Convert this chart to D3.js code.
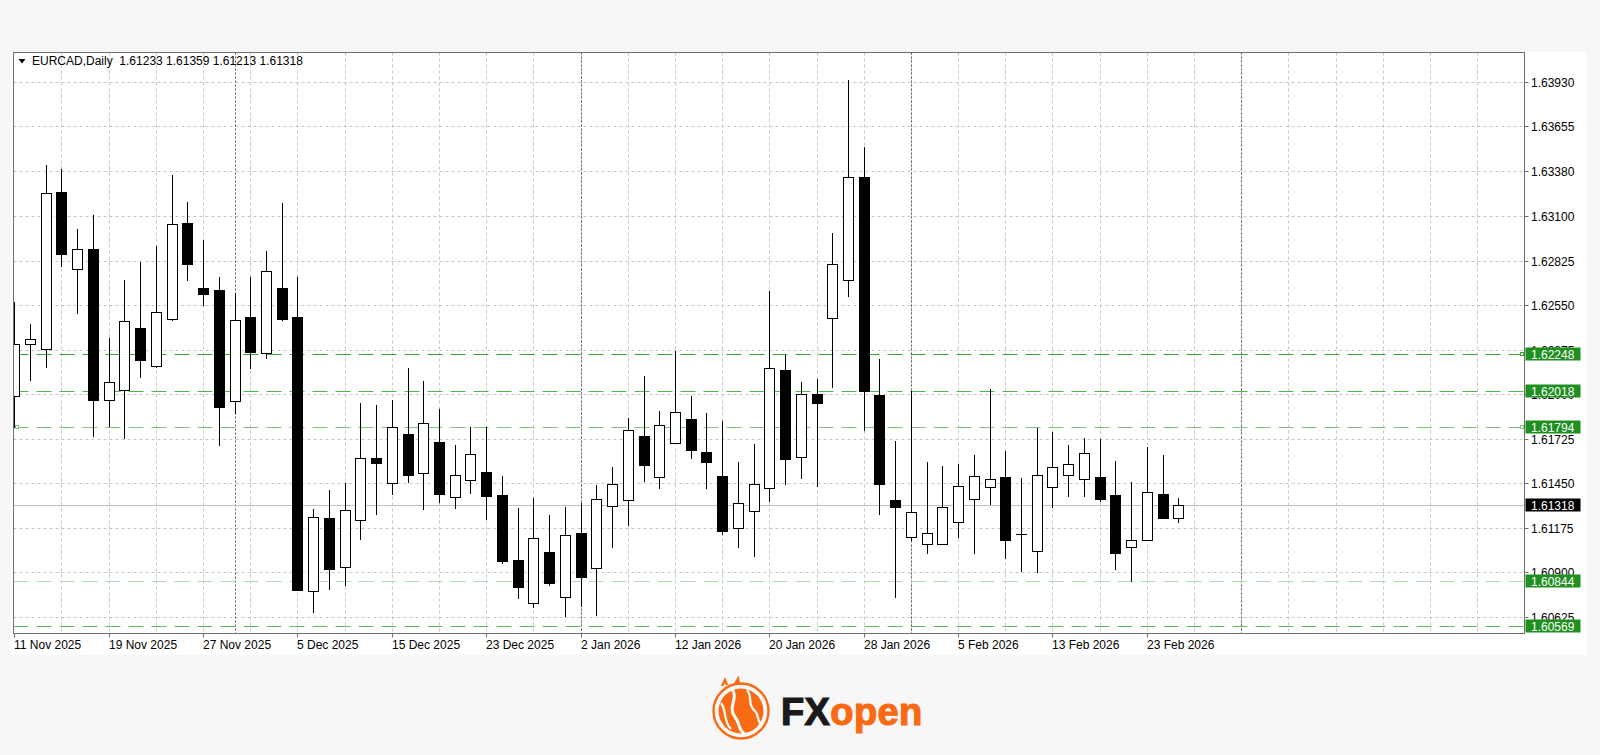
<!DOCTYPE html>
<html><head><meta charset="utf-8">
<script src="https://cdn.jsdelivr.net/npm/d3@7"></script>
<style>html,body{margin:0;padding:0;background:#f7f7f7;} svg{display:block;}</style>
</head><body><svg id="c" width="1600" height="755"></svg>
<script>
// ---------- DATA ----------
const symbol = "EURCAD,Daily";
const dates = ["11 Nov 2025","12 Nov 2025","13 Nov 2025","14 Nov 2025","17 Nov 2025","18 Nov 2025","19 Nov 2025","20 Nov 2025","21 Nov 2025","24 Nov 2025",
"25 Nov 2025","26 Nov 2025","27 Nov 2025","28 Nov 2025","1 Dec 2025","2 Dec 2025","3 Dec 2025","4 Dec 2025","5 Dec 2025","8 Dec 2025",
"9 Dec 2025","10 Dec 2025","11 Dec 2025","12 Dec 2025","15 Dec 2025","16 Dec 2025","17 Dec 2025","18 Dec 2025","19 Dec 2025","22 Dec 2025",
"23 Dec 2025","24 Dec 2025","26 Dec 2025","29 Dec 2025","30 Dec 2025","31 Dec 2025","2 Jan 2026","5 Jan 2026","6 Jan 2026","7 Jan 2026",
"8 Jan 2026","9 Jan 2026","12 Jan 2026","13 Jan 2026","14 Jan 2026","15 Jan 2026","16 Jan 2026","19 Jan 2026","20 Jan 2026","21 Jan 2026",
"22 Jan 2026","23 Jan 2026","26 Jan 2026","27 Jan 2026","28 Jan 2026","29 Jan 2026","30 Jan 2026","2 Feb 2026","3 Feb 2026","4 Feb 2026",
"5 Feb 2026","6 Feb 2026","9 Feb 2026","10 Feb 2026","11 Feb 2026","12 Feb 2026","13 Feb 2026","16 Feb 2026","17 Feb 2026","18 Feb 2026",
"19 Feb 2026","20 Feb 2026","23 Feb 2026","24 Feb 2026","25 Feb 2026"];

const opens = [
1.61988,1.62308,1.62279,1.63249,1.62775,1.62895,1.61966,1.62027,1.62409,1.62174,
1.62464,1.63057,1.62657,1.62643,1.61959,1.62478,1.62254,1.62657,1.62478,1.60786,
1.61237,1.60934,1.61222,1.61607,1.61449,1.61754,1.61515,1.61706,1.61363,1.61471,
1.61517,1.61377,1.60975,1.60708,1.61027,1.60749,1.61144,1.60924,1.61309,1.61346,
1.61743,1.61486,1.61700,1.61844,1.61641,1.61494,1.61171,1.61278,1.61422,1.62152,
1.61610,1.61999,1.62472,1.62707,1.63343,1.61995,1.61346,1.61116,1.61076,1.61072,
1.61212,1.61352,1.61426,1.61486,1.61134,1.61031,1.61426,1.61499,1.61476,1.61486,
1.61375,1.61056,1.61099,1.61385,1.61233];
const highs = [
1.62567,1.62433,1.63417,1.63391,1.63018,1.63105,1.62345,1.62705,1.62814,1.62917,
1.63352,1.63187,1.62952,1.62725,1.62627,1.62725,1.62884,1.63183,1.62725,1.61292,
1.61406,1.61453,1.61947,1.61933,1.61964,1.62160,1.62081,1.61908,1.61686,1.61797,
1.61797,1.61494,1.61295,1.61360,1.61253,1.61305,1.61326,1.61439,1.61548,1.61851,
1.62112,1.61896,1.62268,1.61988,1.61882,1.61834,1.61579,1.61692,1.62637,1.62242,
1.62073,1.62093,1.62995,1.63941,1.63525,1.62215,1.61710,1.62021,1.61579,1.61556,
1.61568,1.61624,1.62030,1.61649,1.61480,1.61793,1.61768,1.61686,1.61731,1.61721,
1.61587,1.61455,1.61675,1.61624,1.61359];
const lows = [
1.61797,1.62087,1.62166,1.62790,1.62503,1.61743,1.61803,1.61731,1.62104,1.62168,
1.62458,1.62705,1.62549,1.61688,1.61882,1.62160,1.62221,1.62458,1.60787,1.60656,
1.60794,1.60821,1.61103,1.61260,1.61383,1.61459,1.61289,1.61336,1.61298,1.61391,
1.61227,1.60955,1.60739,1.60687,1.60821,1.60629,1.60691,1.60636,1.61058,1.61192,
1.61465,1.61418,1.61698,1.61607,1.61418,1.61136,1.61054,1.61000,1.61340,1.61443,
1.61484,1.61432,1.62042,1.62604,1.61778,1.61260,1.60749,1.61099,1.61020,1.61072,
1.61119,1.61020,1.61319,1.60986,1.60907,1.60903,1.61301,1.61373,1.61373,1.61340,
1.60920,1.60847,1.61099,1.61235,1.61213];
const closes = [
1.62308,1.62341,1.63242,1.62868,1.62898,1.61966,1.62073,1.62450,1.62211,1.62506,
1.63051,1.62802,1.62619,1.61919,1.62456,1.62262,1.62759,1.62462,1.60790,1.61241,
1.60918,1.61284,1.61607,1.61576,1.61795,1.61500,1.61820,1.61383,1.61499,1.61632,
1.61373,1.60971,1.60810,1.61109,1.60835,1.61130,1.60872,1.61352,1.61445,1.61777,
1.61560,1.61809,1.61888,1.61655,1.61581,1.61155,1.61326,1.61443,1.62161,1.61599,
1.62001,1.61948,1.62804,1.63343,1.62021,1.61447,1.61301,1.61274,1.61140,1.61303,
1.61431,1.61496,1.61478,1.61099,1.61134,1.61499,1.61550,1.61567,1.61635,1.61352,
1.61020,1.61099,1.61394,1.61235,1.61318];

const priceTicks = [1.63930,1.63655,1.63380,1.63100,1.62825,1.62550,1.62275,1.62000,1.61725,1.61450,1.61175,1.60900,1.60625];
const levels = [1.62248,1.62018,1.61794,1.60844,1.60569];
const lastPrice = 1.61318;
const labelBars = [0,6,12,18,24,30,36,42,48,54,60,66,72];
const monthStartBars = [14,36,57,78];

// ---------- STYLE ----------
const levelColors = ["#33a833","#4db64d","#7cc67c","#b2dcb2","#62ba62"];
const boxGreen = "#1f8f1f";
const orange = "#f96a14";
const FONT = "'Liberation Sans', Arial, sans-serif";

// ---------- LAYOUT ----------
const L = 13.5, T = 52.5, R = 1524.5, B = 633.5;
const x = d3.scaleLinear().domain([0, 96]).range([14.3, 14.3 + 96 * 15.73]);
const y = d3.scaleLinear().domain([1.60625, 1.63930]).range([616.7, 81.7]);
const px = v => Math.round(v) + 0.5;

const svg = d3.select('#c');
svg.append('rect').attr('width',1600).attr('height',755).attr('fill','#f7f7f7');
svg.append('rect').attr('x',11).attr('y',52).attr('width',1575).attr('height',603).attr('fill','#ffffff');

svg.append('clipPath').attr('id','plot').append('rect')
  .attr('x',L).attr('y',T).attr('width',R-L).attr('height',B-T);
const plot = svg.append('g').attr('clip-path','url(#plot)');

// grid horizontal
plot.selectAll('line.hg').data(priceTicks).join('line').attr('class','hg')
  .attr('x1',L).attr('x2',R).attr('y1',d=>px(y(d))).attr('y2',d=>px(y(d)))
  .attr('stroke','#c6c6c6').attr('stroke-dasharray','3,3');
// grid vertical
const vgrid = d3.range(3, 97, 3).filter(i => x(i) < R - 1);
plot.selectAll('line.vg').data(vgrid).join('line').attr('class','vg')
  .attr('x1',d=>px(x(d))).attr('x2',d=>px(x(d))).attr('y1',T).attr('y2',B)
  .attr('stroke','#c6c6c6').attr('stroke-dasharray','3,3');
// month separators
plot.selectAll('line.sep').data(monthStartBars).join('line').attr('class','sep')
  .attr('x1',d=>px(x(d))).attr('x2',d=>px(x(d))).attr('y1',T).attr('y2',B)
  .attr('stroke','#5a5a5a').attr('stroke-dasharray','2,2');
// last price line
plot.append('line').attr('x1',L).attr('x2',R).attr('y1',px(y(lastPrice))).attr('y2',px(y(lastPrice)))
  .attr('stroke','#c0c0c0');
// levels
plot.selectAll('line.lv').data(levels).join('line').attr('class','lv')
  .attr('x1',L).attr('x2',R).attr('y1',d=>px(y(d))).attr('y2',d=>px(y(d)))
  .attr('stroke',(d,i)=>levelColors[i]).attr('stroke-width',1.2).attr('stroke-dasharray','15,8');
// level anchor markers
[[0,R-5],[2,R-5],[2,L+1]].forEach(([k,mx])=>{
  plot.append('rect').attr('x',Math.round(mx)+0.5).attr('y',Math.round(y(levels[k]))-1.5)
    .attr('width',3).attr('height',3).attr('fill','#fff').attr('stroke',levelColors[k]);
});

// candles
const bars = dates.map((d,i)=>({i, o:opens[i], h:highs[i], l:lows[i], c:closes[i]}));
const cg = plot.append('g').attr('shape-rendering','crispEdges');
bars.forEach(b=>{
  const cx = Math.round(x(b.i));
  cg.append('line').attr('x1',cx+0.5).attr('x2',cx+0.5)
    .attr('y1',Math.round(y(b.h))).attr('y2',Math.round(y(b.l))+1).attr('stroke','#000');
  const top = Math.round(y(Math.max(b.o,b.c))), bot = Math.round(y(Math.min(b.o,b.c)));
  if (b.c < b.o) {
    cg.append('rect').attr('x',cx-5).attr('y',top).attr('width',11).attr('height',Math.max(1,bot-top+1)).attr('fill','#000');
  } else {
    cg.append('rect').attr('x',cx-4.5).attr('y',top+0.5).attr('width',10).attr('height',Math.max(0.01,bot-top))
      .attr('fill','#fff').attr('stroke','#000');
  }
});

// frame
svg.append('rect').attr('x',L).attr('y',T).attr('width',R-L).attr('height',B-T)
  .attr('fill','none').attr('stroke','#6e6e6e');

// right axis
const ax = svg.append('g').attr('font-family',FONT).attr('font-size',12).attr('fill','#000');
priceTicks.forEach(p=>{
  const yy = px(y(p));
  ax.append('line').attr('x1',R).attr('x2',R+4).attr('y1',yy).attr('y2',yy).attr('stroke','#6e6e6e');
  ax.append('text').attr('x',1531).attr('y',yy+4.5).text(p.toFixed(5));
});
// level boxes
levels.forEach(p=>{
  const yy = Math.round(y(p));
  ax.append('rect').attr('x',1525.5).attr('y',yy-6.5).attr('width',55).attr('height',13).attr('fill',boxGreen);
  ax.append('text').attr('x',1531).attr('y',yy+4.5).attr('fill','#fff').text(p.toFixed(5));
});
{
  const yy = Math.round(y(lastPrice));
  ax.append('rect').attr('x',1525.5).attr('y',yy-6.5).attr('width',55).attr('height',13).attr('fill','#000');
  ax.append('text').attr('x',1531).attr('y',yy+4.5).attr('fill','#fff').text(lastPrice.toFixed(5));
}

// bottom axis
labelBars.forEach(i=>{
  const xx = px(x(i));
  ax.append('line').attr('x1',xx).attr('x2',xx).attr('y1',B).attr('y2',B+4).attr('stroke','#6e6e6e');
  ax.append('text').attr('x',Math.round(x(i))).attr('y',649).text(dates[i]);
});

// title
const last = bars[bars.length-1];
svg.append('path').attr('d','M18.5,59 L25.5,59 L22,63.5 Z').attr('fill','#000');
ax.append('text').attr('x',32).attr('y',65).attr('xml:space','preserve').style('white-space','pre')
  .text(symbol + '  ' + [last.o,last.h,last.l,last.c].map(v=>v.toFixed(5)).join(' '));

// logo
const lg = svg.append('g').attr('transform','translate(741,711)');
lg.append('circle').attr('r',27.5).attr('fill','none').attr('stroke',orange).attr('stroke-width',2.4);
lg.append('circle').attr('r',22.5).attr('fill',orange);
lg.append('path').attr('d','M-9,-22 C-2,-12 -14,-4 -6,6 C0,13 -4,18 4,23').attr('fill','none').attr('stroke','#fff').attr('stroke-width',3);
lg.append('path').attr('d','M-20,-8 C-14,0 -18,10 -10,18').attr('fill','none').attr('stroke','#fff').attr('stroke-width',2.2);
lg.append('path').attr('d','M6,-21 C12,-14 6,-6 14,0 C18,4 16,10 20,13').attr('fill','none').attr('stroke','#fff').attr('stroke-width',2.2);
lg.append('path').attr('d','M-19,-25 l3,-6 l2,5 M-6,-27 l3,-5 l1,6').attr('fill','none').attr('stroke',orange).attr('stroke-width',2.5);
const lt = svg.append('text').attr('x',781).attr('y',725).attr('font-family',FONT)
  .attr('font-weight','bold').attr('font-size',38).attr('letter-spacing',0.4);
lt.append('tspan').attr('fill','#1a1a1a').attr('stroke','#1a1a1a').attr('stroke-width',1.2).text('FX');
lt.append('tspan').attr('fill',orange).attr('stroke',orange).attr('stroke-width',1.2).text('open');
</script></body></html>
